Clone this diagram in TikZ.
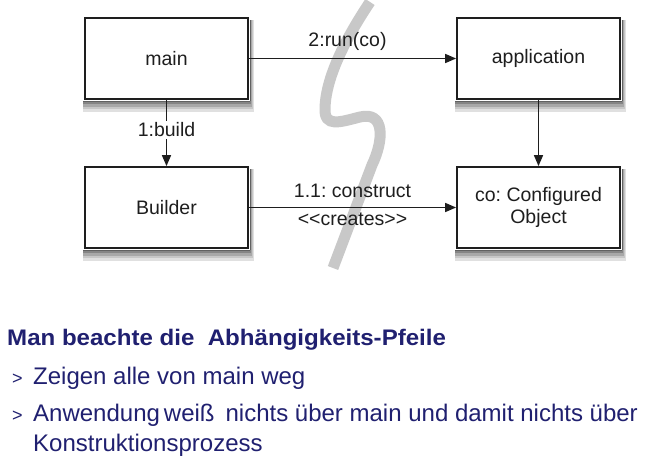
\documentclass[tikz,border=0pt]{standalone}
\usepackage{fontspec}
\setmainfont{Liberation Sans}
\usetikzlibrary{arrows.meta}
\definecolor{navy}{RGB}{32,32,112}
\definecolor{wave}{RGB}{200,200,200}
\definecolor{ink}{RGB}{30,30,30}
\frenchspacing
\newcommand\shadeband[3]{%
  \fill[black!#2] ([xshift=-1pt,yshift=-0.9pt]#1.south west) rectangle ([xshift={0.4*#3pt},yshift={-#3pt}]#1.south east);
  \fill[black!#2] ([xshift=0.9pt,yshift=-3pt]#1.north east) rectangle ([xshift={0.4*#3pt},yshift=-0.9pt]#1.south east);
}
\newcommand\boxshade[1]{%
  \shadeband{#1}{12}{12}\shadeband{#1}{22}{9.5}\shadeband{#1}{34}{7}\shadeband{#1}{48}{4.5}\shadeband{#1}{62}{2.5}}
\begin{document}
\begin{tikzpicture}[x=1pt,y=-1pt,
  box/.style={draw=ink, line width=1.8pt, fill=white, minimum width=163pt, minimum height=81pt,
    inner sep=0pt, font=\fontsize{19.5}{22}\selectfont, text=ink, align=center},
  conn/.style={draw=ink, line width=1.6pt, -{Triangle[length=11pt,width=9pt]}},
  lbl/.style={font=\fontsize{19.5}{22}\selectfont, text=ink, inner sep=0pt},
  txt/.style={anchor=base west, inner sep=0pt, text=navy}
]
\useasboundingbox (0,0) rectangle (648,460);
\fill[white] (0,0) rectangle (648,460);
% grey lightning separator
\draw[wave, line width=11pt] (370,2) .. controls (348,35) and (326,75) .. (325,108)
  .. controls (324,128) and (340,122) .. (360,117)
  .. controls (385,111) and (384,140) .. (372,165) -- (333,268);
% boxes
\node[box] (main) at (166.5,58.5) {main};
\node[box] (app) at (538.5,58.5) {application};
\node[box] (bld) at (166.5,207.5) {Builder};
\node[box] (co) at (538.5,207.5) {co: Configured\\Object};
% soft shadows
\boxshade{main}\boxshade{app}\boxshade{bld}\boxshade{co}
% connectors
\draw[conn] (main.east) -- node[lbl, above=7pt, xshift=-5pt]{2:run(co)} (app.west);
\draw[conn] (main.south) -- node[lbl, fill=white, inner sep=2pt, pos=0.45]{1:build} (bld.north);
\draw[conn] (app.south) -- (co.north);
\draw[conn] (bld.east) -- node[lbl, above=9pt]{1.1: construct} node[lbl, below=4.5pt]{<{}<creates>{}>} (co.west);
% text
\node[txt, font=\bfseries\fontsize{22.5}{26}\selectfont] (title) at (7,345) {\scalebox{1.07}[1]{Man beachte die \ Abhängigkeits-Pfeile}};
\node[txt, font=\fontsize{18}{20}\selectfont] (b1) at (12,384) {>};
\node[txt, font=\fontsize{24}{28}\selectfont] (l1) at (33,384) {Zeigen alle von main weg};
\node[txt, font=\fontsize{18}{20}\selectfont] (b2) at (12,421) {>};
\node[txt, font=\fontsize{24}{28}\selectfont] (l2) at (33,421) {Anwendung\hspace{4pt}weiß\hspace{11pt}nichts über main und damit nichts über};
\node[txt, font=\fontsize{24}{28}\selectfont] (l3) at (33,451) {Konstruktionsprozess};
\end{tikzpicture}
\end{document}
